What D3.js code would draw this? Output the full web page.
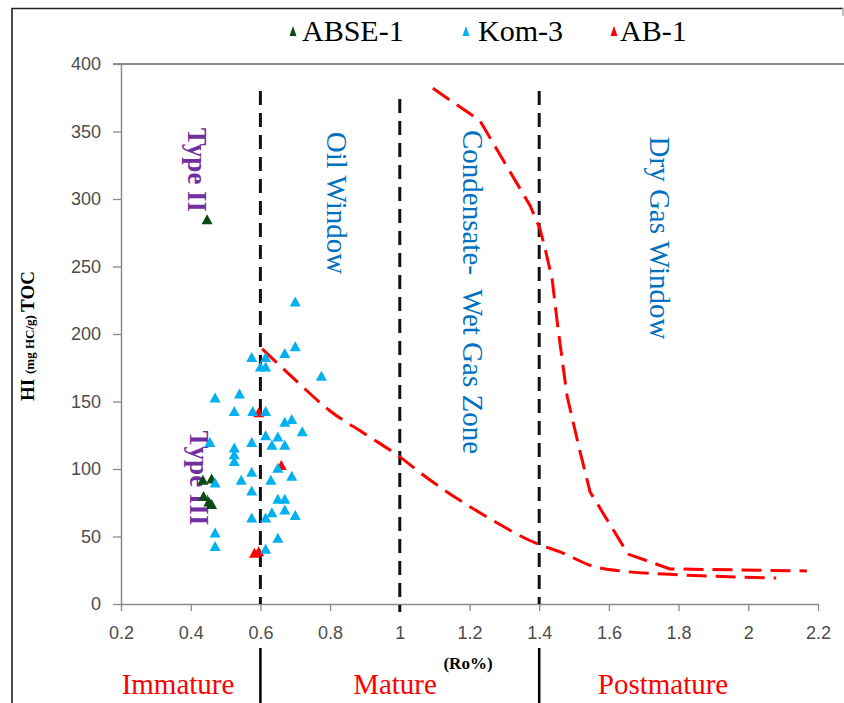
<!DOCTYPE html>
<html>
<head>
<meta charset="utf-8">
<script src="https://cdn.jsdelivr.net/npm/d3@7/dist/d3.min.js"></script>
<style>
  html, body { margin: 0; padding: 0; background: #fff; }
  svg { display: block; }
</style>
</head>
<body>
<svg id="chart" width="844" height="703"></svg>
<script>
// ---- data ----------------------------------------------------------------
const seriesNames = ["ABSE-1", "Kom-3", "AB-1"];

// Tmax-derived vitrinite reflectance (Ro%) and hydrogen index pairs per well
const abse1 = [[0.447, 285], [0.435, 92], [0.46, 93], [0.437, 80], [0.452, 76], [0.46, 74]];
const ab1 = [[0.595, 142], [0.66, 103], [0.583, 38], [0.595, 39]];
const kom3 = [
  [0.70, 224], [0.70, 191], [0.67, 186], [0.575, 183], [0.615, 183], [0.60, 176],
  [0.615, 176], [0.775, 169], [0.47, 153], [0.54, 156], [0.525, 143], [0.578, 143],
  [0.615, 143], [0.67, 135], [0.69, 137], [0.72, 128], [0.615, 125], [0.65, 124],
  [0.575, 120], [0.633, 118], [0.67, 118], [0.455, 120], [0.525, 116], [0.525, 111],
  [0.525, 106], [0.65, 101], [0.69, 95], [0.575, 98], [0.545, 92], [0.63, 92],
  [0.47, 90], [0.575, 84], [0.65, 78], [0.67, 78], [0.67, 70], [0.633, 68],
  [0.70, 66], [0.615, 64], [0.575, 64], [0.47, 53], [0.65, 49], [0.47, 43], [0.615, 41]
];

// Kerogen type boundary curves (Ro%, HI)
const type2Ro = [1.095, 1.23, 1.374, 1.402, 1.417, 1.437, 1.454, 1.48, 1.517, 1.546, 1.655, 1.775, 2.168];
const type2HI = [382, 358, 295, 278, 263, 241, 204, 154, 113, 83, 37, 26, 24.5];
const type3Ro = [0.605, 0.7, 0.8, 0.9, 1.0, 1.07, 1.25, 1.4, 1.46, 1.554, 1.65, 1.775, 2.08];
const type3HI = [189, 166, 143, 126, 109, 95, 64.5, 44, 38.6, 28, 24, 22, 19.3];

// Maturity zone boundaries (Ro%) and the HI where each dashed divider begins
const zoneBounds = [0.6, 1.0, 1.4];
const zoneTops = [380, 374, 380];

const xTicks = [0.2, 0.4, 0.6, 0.8, 1.0, 1.2, 1.4, 1.6, 1.8, 2.0, 2.2];
const yTicks = [0, 50, 100, 150, 200, 250, 300, 350, 400];

// ---- layout ----------------------------------------------------------------
const svg = d3.select("#chart");
const x = d3.scaleLinear().domain([0.2, 2.2]).range([121, 818]);
const y = d3.scaleLinear().domain([0, 400]).range([604, 64]);

const serif = "'Liberation Serif', 'Times New Roman', serif";
const sans = "'Liberation Sans', Arial, sans-serif";
const colors = { "ABSE-1": "#0b4a12", "Kom-3": "#00b0f0", "AB-1": "#ff0000" };

// outer frame
svg.append("path")
  .attr("d", "M12,703 L12,8.5 L843,8.5")
  .attr("fill", "none").attr("stroke", "#222").attr("stroke-width", 1.6);
svg.append("line").attr("x1", 843).attr("x2", 843).attr("y1", 8).attr("y2", 16)
  .attr("stroke", "#aaa").attr("stroke-width", 1.5);

// top line at HI = 400
svg.append("line")
  .attr("x1", 113).attr("x2", 844).attr("y1", y(400)).attr("y2", y(400))
  .attr("stroke", "#8a8a8a").attr("stroke-width", 2);

// y axis
const yAxis = d3.axisLeft(y).tickValues(yTicks).tickSize(8).tickSizeOuter(0).tickPadding(12)
  .tickFormat(d3.format("d"));
const gy = svg.append("g").attr("transform", `translate(${x(0.2)},0)`).call(yAxis);
gy.select(".domain").attr("stroke", "#8a8a8a").attr("stroke-width", 1.5);
gy.selectAll(".tick line").attr("stroke", "#8a8a8a").attr("stroke-width", 1.3);
gy.selectAll(".tick text").attr("font-family", sans).attr("font-size", 18).attr("fill", "#4d4d4d");

// x axis
const xAxis = d3.axisBottom(x).tickValues(xTicks).tickSize(7).tickSizeOuter(0).tickPadding(15)
  .tickFormat(d => String(+d.toFixed(1)));
const gx = svg.append("g").attr("transform", `translate(0,${y(0)})`).call(xAxis);
gx.select(".domain").attr("stroke", "#8a8a8a").attr("stroke-width", 1.5);
gx.selectAll(".tick line").attr("stroke", "#8a8a8a").attr("stroke-width", 1.3);
gx.selectAll(".tick text").attr("font-family", sans).attr("font-size", 18).attr("fill", "#4d4d4d");

// maturity zone boundaries (dashed)
svg.selectAll(".zone").data(zoneBounds).enter().append("line")
  .attr("class", "zone")
  .attr("x1", d => x(d)).attr("x2", d => x(d))
  .attr("y1", (d, i) => y(zoneTops[i]))
  .attr("y2", d => d === 1.0 ? y(0) + 8 : y(0))
  .attr("stroke", "#111").attr("stroke-width", 3)
  .attr("stroke-dasharray", "14,8");

// solid separators between maturity labels
svg.selectAll(".sep").data([0.6, 1.4]).enter().append("line")
  .attr("class", "sep")
  .attr("x1", d => x(d)).attr("x2", d => x(d))
  .attr("y1", 648).attr("y2", 703)
  .attr("stroke", "#000").attr("stroke-width", 2.5);

// kerogen boundary curves
const curve = (ro, hi, c) => d3.line().x(i => x(ro[i])).y(i => y(hi[i])).curve(c)(d3.range(ro.length));
svg.append("path").attr("d", curve(type2Ro, type2HI, d3.curveLinear))
  .attr("fill", "none").attr("stroke", "#ff0000").attr("stroke-width", 3)
  .attr("stroke-dasharray", "20,9");
svg.append("path").attr("d", curve(type3Ro, type3HI, d3.curveMonotoneX))
  .attr("fill", "none").attr("stroke", "#ff0000").attr("stroke-width", 3)
  .attr("stroke-dasharray", "20,9");

// zone labels
function vtext(txt, cx, cy, size, color, weight) {
  svg.append("text")
    .attr("transform", `translate(${cx},${cy}) rotate(90)`)
    .attr("text-anchor", "middle").attr("dominant-baseline", "central")
    .attr("font-family", serif).attr("font-size", size)
    .attr("font-weight", weight || "normal").attr("fill", color)
    .style("white-space", "pre")
    .text(txt);
}
vtext("Type II", 197, 170, 27, "#7030a0", "bold");
vtext("Type III", 199, 478, 27, "#7030a0", "bold");
vtext("Oil Window", 337, 203, 29, "#0070c0");
vtext("Condensate-  Wet Gas Zone", 473, 292, 29, "#0070c0");
vtext("Dry Gas Window", 660, 238, 29, "#0070c0");

// markers
const tri = (w, h) => `M0,${-h / 2}L${w / 2},${h / 2}L${-w / 2},${h / 2}Z`;
function plotSeries(data, name) {
  svg.append("g").selectAll("path").data(data).enter().append("path")
    .attr("d", tri(11, 10))
    .attr("transform", d => `translate(${x(d[0])},${y(d[1])})`)
    .attr("fill", colors[name]);
}
plotSeries(ab1, "AB-1");
plotSeries(abse1, "ABSE-1");
plotSeries(kom3, "Kom-3");

// legend
const legendPos = [{ mx: 293, tx: 302 }, { mx: 466, tx: 478 }, { mx: 614, tx: 620 }];
const lg = svg.append("g").selectAll("g").data(seriesNames).enter().append("g");
lg.append("path").attr("d", tri(7, 10))
  .attr("transform", (d, i) => `translate(${legendPos[i].mx},${31})`)
  .attr("fill", d => colors[d]);
lg.append("text")
  .attr("x", (d, i) => legendPos[i].tx).attr("y", 41)
  .attr("font-family", serif).attr("font-size", 30).attr("fill", "#000")
  .text(d => d);

// y axis title
const yt = svg.append("text")
  .attr("transform", "translate(34,336) rotate(-90)")
  .attr("text-anchor", "middle")
  .attr("font-family", serif).attr("font-weight", "bold").attr("fill", "#000");
yt.append("tspan").attr("font-size", 19).text("HI ");
yt.append("tspan").attr("font-size", 13).text(" (mg HC/g) ");
yt.append("tspan").attr("font-size", 19).text("TOC");

// x axis title and maturity labels
svg.append("text").attr("x", 468).attr("y", 669).attr("text-anchor", "middle")
  .attr("font-family", serif).attr("font-weight", "bold").attr("font-size", 17)
  .text("(Ro%)");
const matLabels = [["Immature", 178], ["Mature", 395], ["Postmature", 663]];
svg.selectAll(".mat").data(matLabels).enter().append("text")
  .attr("class", "mat")
  .attr("x", d => d[1]).attr("y", 694).attr("text-anchor", "middle")
  .attr("font-family", serif).attr("font-size", 29).attr("fill", "#ff0000")
  .text(d => d[0]);
</script>
</body>
</html>
